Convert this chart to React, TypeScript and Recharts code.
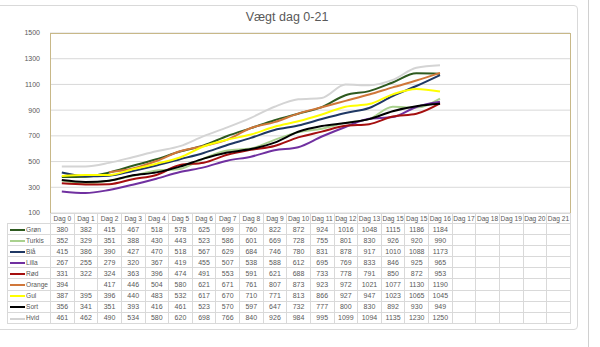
import { LineChart, Line, XAxis, YAxis, CartesianGrid } from "recharts";

// kategorier (bemærk: "Dag 15" står to gange i originalen)
const days = [
  "Dag 0", "Dag 1", "Dag 2", "Dag 3", "Dag 4", "Dag 5", "Dag 6", "Dag 7",
  "Dag 8", "Dag 9", "Dag 10", "Dag 11", "Dag 12", "Dag 13", "Dag 15", "Dag 15",
  "Dag 16", "Dag 17", "Dag 18", "Dag 19", "Dag 20", "Dag 21",
];

const yTicks = [100, 300, 500, 700, 900, 1100, 1300, 1500];

const gron = [380, 382, 415, 467, 518, 578, 625, 699, 760, 822, 872, 924, 1016, 1048, 1115, 1186, 1184];
const turkis = [352, 329, 351, 388, 430, 443, 523, 586, 601, 669, 728, 755, 801, 830, 926, 920, 990];
const bla = [415, 386, 390, 427, 470, 518, 567, 629, 684, 746, 780, 831, 878, 917, 1010, 1088, 1173];
const lilla = [267, 255, 279, 320, 367, 419, 455, 507, 538, 588, 612, 695, 769, 833, 846, 925, 965];
const rod = [331, 322, 324, 363, 396, 474, 491, 553, 591, 621, 688, 733, 778, 791, 850, 872, 953];
const orange = [394, null, 417, 446, 504, 580, 621, 671, 761, 807, 873, 923, 972, 1021, 1077, 1130, 1190];
const gul = [387, 395, 396, 440, 483, 532, 617, 670, 710, 771, 813, 866, 927, 947, 1023, 1065, 1045];
const sort = [356, 341, 351, 393, 416, 461, 523, 570, 597, 647, 732, 777, 800, 830, 892, 930, 949];
const hvid = [461, 462, 490, 534, 580, 620, 698, 766, 840, 926, 984, 995, 1099, 1094, 1135, 1230, 1250];

const series = [
  { name: "Grøn", values: gron, color: "#2e5a1f" },
  { name: "Turkis", values: turkis, color: "#a9d18e" },
  { name: "Blå", values: bla, color: "#1f3864" },
  { name: "Lilla", values: lilla, color: "#7030a0" },
  { name: "Rød", values: rod, color: "#a50f0f" },
  { name: "Orange", values: orange, color: "#d0773a" },
  { name: "Gul", values: gul, color: "#ffff00" },
  { name: "Sort", values: sort, color: "#000000" },
  { name: "Hvid", values: hvid, color: "#d4d4d4" },
];

const data = days.map((d, i) => {
  const row: any = { idx: i, day: d };
  series.forEach((s) => {
    row[s.name] = i < s.values.length ? s.values[i] : null;
  });
  return row;
});

const PLOT_L = 50;
const PLOT_R = 570;
const PLOT_T = 33;
const PLOT_B = 213;
const COL_W = (PLOT_R - PLOT_L) / days.length;
const ROW_H = 11.1;
const font = "'Liberation Sans', Arial, sans-serif";

export default function App() {
  return (
    <div
      style={{
        position: "absolute",
        left: 0,
        top: 0,
        width: 600,
        height: 347,
        background: "#fff",
        overflow: "hidden",
        fontFamily: font,
      }}
    >
      {/* kortets ramme */}
      <div
        style={{
          position: "absolute",
          left: -4,
          top: 5,
          width: 582,
          height: 325,
          border: "1px solid #d9d9d9",
          borderRadius: 4,
          boxSizing: "border-box",
        }}
      />
      <div style={{ position: "absolute", left: 588, top: 0, width: 1, height: 347, background: "#d0d0d0" }} />

      <div
        style={{
          position: "absolute",
          left: 0,
          top: 10,
          width: 574,
          textAlign: "center",
          fontSize: 12.5,
          color: "#595959",
        }}
      >
        Vægt dag 0-21
      </div>

      <div style={{ position: "absolute", left: 0, top: 0 }}>
        <LineChart
          width={600}
          height={347}
          data={data}
          margin={{ top: PLOT_T, right: 600 - PLOT_R, bottom: 347 - PLOT_B, left: 0 }}
        >
          <CartesianGrid horizontal vertical={false} stroke="#d9d9d9" />
          <XAxis
            dataKey="idx"
            type="category"
            hide
            padding={{ left: COL_W / 2, right: COL_W / 2 }}
          />
          <YAxis
            width={PLOT_L}
            domain={[100, 1500]}
            ticks={yTicks}
            axisLine={false}
            tickLine={false}
            tickMargin={4}
            tick={{ fill: "#595959", fontSize: 7, fontFamily: font }}
          />
          {series.map((s) => (
            <Line
              key={s.name}
              type="monotone"
              dataKey={s.name}
              stroke={s.color}
              strokeWidth={2}
              dot={false}
              activeDot={false}
              isAnimationActive={false}
            />
          ))}
        </LineChart>
      </div>

      {/* plotområdets ramme */}
      <div
        style={{
          position: "absolute",
          left: PLOT_L,
          top: PLOT_T,
          width: PLOT_R - PLOT_L + 1,
          height: PLOT_B - PLOT_T + 1,
          border: "1px solid #c8b888",
          borderBottom: "none",
          boxSizing: "border-box",
          pointerEvents: "none",
        }}
      />

      {/* datatabel */}
      <table
        style={{
          position: "absolute",
          left: 7,
          top: PLOT_B,
          borderCollapse: "collapse",
          tableLayout: "fixed",
          width: PLOT_R - 7,
          color: "#595959",
          fontSize: 6.6,
          fontFamily: font,
        }}
      >
        <colgroup>
          <col style={{ width: PLOT_L - 7 }} />
          {days.map((_, i) => (
            <col key={i} style={{ width: COL_W }} />
          ))}
        </colgroup>
        <tbody>
          <tr style={{ height: 10 }}>
            <td style={{ padding: 0 }} />
            {days.map((d, i) => (
              <td
                key={i}
                style={{
                  border: "1px solid #d9d9d9",
                  padding: 0,
                  textAlign: "center",
                  whiteSpace: "nowrap",
                  overflow: "hidden",
                  lineHeight: "9px",
                }}
              >
                {d}
              </td>
            ))}
          </tr>
          {series.map((s) => (
            <tr key={s.name} style={{ height: ROW_H }}>
              <td
                style={{
                  border: "1px solid #d9d9d9",
                  padding: 0,
                  whiteSpace: "nowrap",
                  lineHeight: "9px",
                  overflow: "hidden",
                }}
              >
                <span
                  style={{
                    display: "inline-block",
                    width: 15,
                    height: 2,
                    background: s.color,
                    verticalAlign: "middle",
                    marginLeft: 2,
                    marginRight: 1,
                  }}
                />
                <span style={{ fontSize: 6.6 }}>{s.name}</span>
              </td>
              {days.map((_, i) => (
                <td
                  key={i}
                  style={{
                    border: "1px solid #d9d9d9",
                    padding: 0,
                    textAlign: "center",
                    lineHeight: "9px",
                    fontSize: 7,
                  }}
                >
                  {i < s.values.length && s.values[i] != null ? s.values[i] : ""}
                </td>
              ))}
            </tr>
          ))}
        </tbody>
      </table>
    </div>
  );
}
